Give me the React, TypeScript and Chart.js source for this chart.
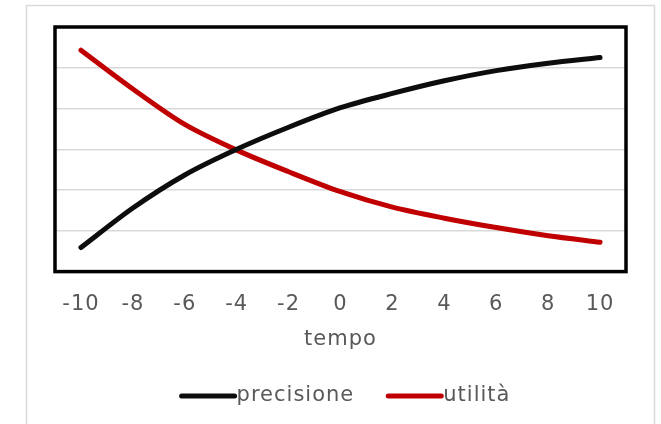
import React, { useEffect, useRef } from "react";
import { Chart, registerables } from "chart.js";

Chart.register(...registerables);

const categories = ["-10", "-8", "-6", "-4", "-2", "0", "2", "4", "6", "8", "10"];
const precisione = [0.59, 1.56, 2.37, 3.0, 3.54, 4.02, 4.37, 4.68, 4.93, 5.11, 5.25];
const utilita = [5.43, 4.48, 3.61, 2.98, 2.45, 1.96, 1.58, 1.31, 1.08, 0.88, 0.72];
const seriesNames = ["precisione", "utilità"];
const seriesColors = ["#0d0d0d", "#c00000"];
const xTitle = "tempo";

const FONT = "'DejaVu Sans', 'Open Sans', sans-serif";
const TEXT = "#595959";
const SPACING = "1px";

const framePlugin = {
  id: "frame",
  beforeUpdate(chart: any) {
    (chart.ctx as any).letterSpacing = SPACING;
  },
  beforeDraw(chart: any) {
    const ctx = chart.ctx;
    ctx.save();
    ctx.fillStyle = "#ffffff";
    ctx.fillRect(0, 0, chart.width, chart.height);
    ctx.strokeStyle = "#d9d9d9";
    ctx.lineWidth = 1.5;
    ctx.strokeRect(26.5, 5.5, 628, 430);
    ctx.restore();
    (ctx as any).letterSpacing = SPACING;
  },
  afterDraw(chart: any) {
    const ctx = chart.ctx;
    const a = chart.chartArea;
    ctx.save();
    ctx.strokeStyle = "#000000";
    ctx.lineWidth = 3.5;
    ctx.strokeRect(a.left, a.top, a.right - a.left, a.bottom - a.top);
    // legend
    (ctx as any).letterSpacing = SPACING;
    ctx.font = `21px ${FONT}`;
    ctx.textBaseline = "middle";
    const y = 396;
    const items = chart.data.datasets.map((d: any) => ({ label: d.label, color: d.borderColor }));
    const lineW = 53;
    const gap = 2;
    const between = 34;
    let total = 0;
    items.forEach((it: any, i: number) => {
      total += lineW + gap + ctx.measureText(it.label).width + (i < items.length - 1 ? between : 0);
    });
    let x = 346 - total / 2;
    items.forEach((it: any) => {
      ctx.strokeStyle = it.color;
      ctx.lineWidth = 5;
      ctx.lineCap = "round";
      ctx.beginPath();
      ctx.moveTo(x, y);
      ctx.lineTo(x + lineW, y);
      ctx.stroke();
      x += lineW + gap;
      ctx.fillStyle = TEXT;
      ctx.textAlign = "left";
      ctx.fillText(it.label, x, y);
      x += ctx.measureText(it.label).width + between;
    });
    ctx.restore();
  },
};

export default function App() {
  const ref = useRef<HTMLCanvasElement | null>(null);
  useEffect(() => {
    document.body.style.margin = "0";
    const chart = new Chart(ref.current as HTMLCanvasElement, {
      type: "line",
      data: {
        labels: categories,
        datasets: [
          {
            label: seriesNames[0],
            data: precisione,
            borderColor: seriesColors[0],
            backgroundColor: seriesColors[0],
            borderWidth: 5,
            pointRadius: 0,
            tension: 0.3,
            borderCapStyle: "round",
          },
          {
            label: seriesNames[1],
            data: utilita,
            borderColor: seriesColors[1],
            backgroundColor: seriesColors[1],
            borderWidth: 5,
            pointRadius: 0,
            tension: 0.3,
            borderCapStyle: "round",
          },
        ],
      },
      options: {
        responsive: false,
        animation: false,
        layout: { padding: { left: 55, right: 35, top: 27, bottom: 72 } },
        plugins: { legend: { display: false }, tooltip: { enabled: false } },
        scales: {
          x: {
            offset: true,
            grid: { display: false, drawTicks: false },
            border: { display: false },
            ticks: { color: TEXT, font: { family: FONT, size: 21 }, padding: 20, maxRotation: 0, autoSkip: false },
            title: { display: true, text: xTitle, color: TEXT, font: { family: FONT, size: 21 }, padding: { top: -10, bottom: 0 } },
          },
          y: {
            min: 0,
            max: 6,
            ticks: { display: false, stepSize: 1 },
            grid: { color: "#d9d9d9", lineWidth: 1.5, drawTicks: false },
            border: { display: false },
          },
        },
      },
      plugins: [framePlugin],
    });
    return () => chart.destroy();
  }, []);
  return (
    <div style={{ width: 661, height: 424 }}>
      <canvas ref={ref} width={661} height={424} style={{ display: "block" }} />
    </div>
  );
}
